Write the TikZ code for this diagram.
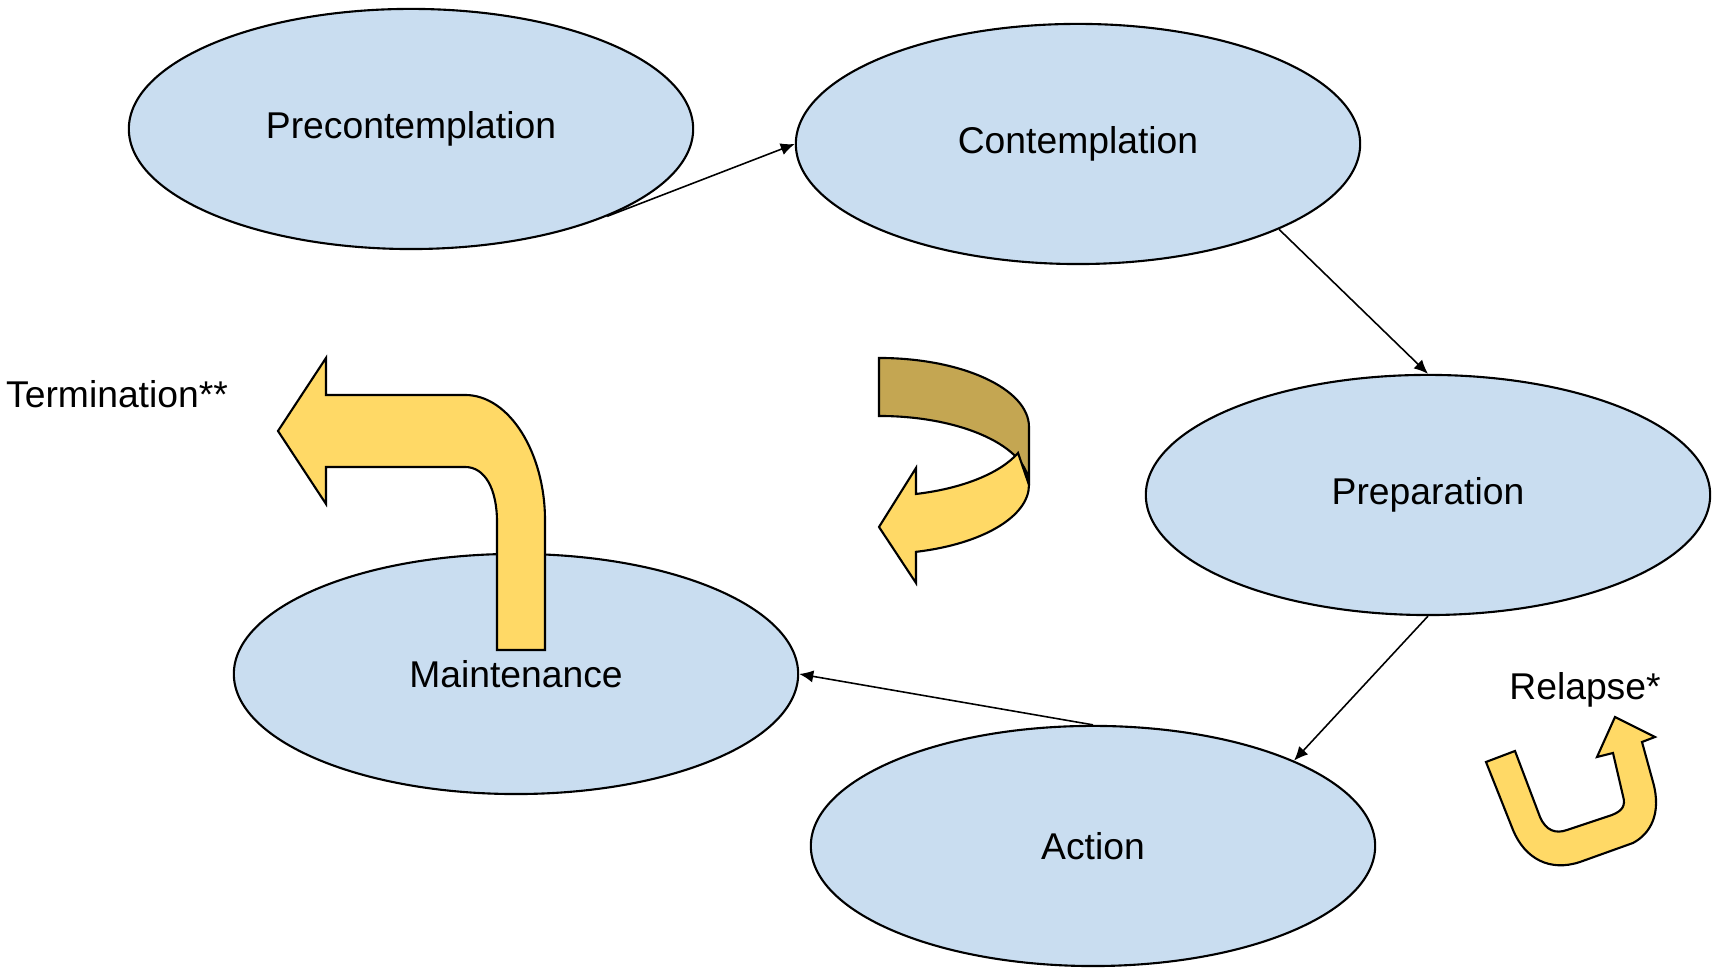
\documentclass[tikz,border=0pt]{standalone}
\usepackage{fontspec}
\setmainfont{Liberation Sans}
\usetikzlibrary{shapes.geometric,arrows.meta}
\definecolor{stagefill}{HTML}{C9DDF0}
\definecolor{bendfill}{HTML}{FFD966}
\definecolor{bandfill}{HTML}{C4A652}
\tikzset{
  stage/.style={ellipse,draw,line width=0.6pt,fill=stagefill,minimum width=5.64cm,minimum height=2.4cm,inner sep=0pt,font=\fontsize{10.6}{13}\selectfont},
  flow/.style={-{Latex[length=4pt,width=3.5pt]},line width=0.45pt},
  bentarrow/.style={draw,line width=0.6pt,fill=bendfill,line join=miter},
  lbl/.style={font=\fontsize{10.6}{13}\selectfont}
}
\begin{document}
\begin{tikzpicture}[x=0.01cm,y=0.01cm]
\useasboundingbox (0,0) rectangle (1717,974);
\node [stage] (pre) at (411,845) {Precontemplation};
\node [stage] (con) at (1078,830) {Contemplation};
\node [stage] (prep) at (1428,479) {Preparation};
\node [stage] (act) at (1093,128) {Action};
\node [stage] (main) at (516,300) {Maintenance};
\draw [flow] (pre.-24.8) -- (con.west);
\draw [flow] (con.-23) -- (prep.north);
\draw [flow] (prep.south) -- (act.23);
\draw [flow] (act.north) -- (main.east);
\node [lbl] (term) at (117,580) {Termination**};
\node [lbl] (rel) at (1585,284) {Relapse*};
% termination arrow
\draw [bentarrow] (278,543) -- (326,616) -- (326,579) -- (465,579)
  .. controls (510,579) and (545,520) .. (545,454) -- (545,324) -- (497,324) -- (497,452)
  .. controls (497,485) and (485,507) .. (465,507) -- (326,507) -- (326,470) -- cycle;
% turning arrow
\draw [bentarrow,fill=bandfill] (879,616) arc[start angle=90,end angle=0,x radius=150,y radius=69]
  -- (1029,489) arc[start angle=0,end angle=90,x radius=150,y radius=69] -- cycle;
\draw [bentarrow] (1029,489) arc[start angle=0,end angle=-75.7,x radius=150,y radius=69]
  -- (916,391) -- (879,447) -- (916,506) -- (916,480)
  arc[start angle=-75.7,end angle=-22,x radius=150,y radius=69] -- cycle;
% relapse arrow
\draw [bentarrow] (1486,212) -- (1515,223) -- (1540,157)
  .. controls (1546,143) and (1556,140) .. (1567,144) -- (1612,159)
  .. controls (1622,163) and (1626,168) .. (1623,178) -- (1613,221) -- (1597,217)
  -- (1615,257) -- (1655,237) -- (1642,232) -- (1653,192)
  .. controls (1662,160) and (1650,140) .. (1633,131) -- (1580,112)
  .. controls (1550,102) and (1525,115) .. (1513,144) -- cycle;
\end{tikzpicture}
\end{document}
